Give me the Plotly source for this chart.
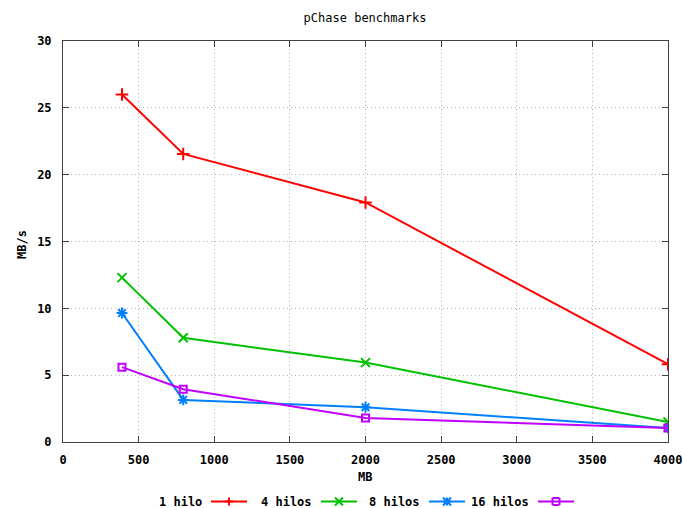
import plotly.graph_objects as go

# ---- data ----
mb = [390, 795, 2000, 4000]
hilo_1 = [26.0, 21.55, 17.92, 5.82]
hilos_4 = [12.3, 7.8, 5.94, 1.5]
hilos_8 = [9.65, 3.15, 2.6, 1.05]
hilos_16 = [5.6, 3.95, 1.8, 1.05]
series_names = ["1 hilo", "4 hilos", "8 hilos", "16 hilos"]
x_ticks = [0, 500, 1000, 1500, 2000, 2500, 3000, 3500, 4000]
y_ticks = [0, 5, 10, 15, 20, 25, 30]

colors = ["#ff0000", "#00c000", "#0080ff", "#c000ff"]
symbols = ["cross-thin-open", "x-thin-open", "asterisk-open", "square-open"]
sizes = [9, 9, 9, 7]

W, H = 683, 508
L, R, T, B = 63, 668, 41, 442
FONT = "DejaVu Sans Mono"


def px_x(p):
    return (p - L) / (R - L)


def px_y(p):
    return (B - p) / (B - T)


def seg_path(segs):
    parts = []
    for (xa, ya), (xb, yb) in segs:
        parts.append(f"M {px_x(xa):.5f} {px_y(ya):.5f} L {px_x(xb):.5f} {px_y(yb):.5f}")
    return " ".join(parts)


def glyph_segments(kind, cx, cy, r=4):
    if kind == "cross-thin-open":
        return [((cx - r, cy), (cx + r, cy)), ((cx, cy - r), (cx, cy + r))]
    if kind == "x-thin-open":
        return [((cx - r, cy - r), (cx + r, cy + r)), ((cx - r, cy + r), (cx + r, cy - r))]
    if kind == "asterisk-open":
        return [((cx - r, cy), (cx + r, cy)), ((cx, cy - r), (cx, cy + r)),
                ((cx - r, cy - r), (cx + r, cy + r)), ((cx - r, cy + r), (cx + r, cy - r))]
    r = 3.5
    return [((cx - r, cy - r), (cx + r, cy - r)), ((cx + r, cy - r), (cx + r, cy + r)),
            ((cx + r, cy + r), (cx - r, cy + r)), ((cx - r, cy + r), (cx - r, cy - r))]


fig = go.Figure()
for name, ys, c, s, sz in zip(series_names, [hilo_1, hilos_4, hilos_8, hilos_16], colors, symbols, sizes):
    fig.add_trace(go.Scatter(
        x=mb, y=ys, mode="lines+markers", name=name,
        line=dict(color=c, width=2),
        marker=dict(symbol=s, size=sz, color=c, line=dict(color=c, width=2)),
        showlegend=False,
    ))

# custom gnuplot-style legend (text left, sample right)
leg_y = 501.5
line_starts = [211, 321, 429, 538]
seg_len = 36
for name, c, s, x0 in zip(series_names, colors, symbols, line_starts):
    fig.add_shape(type="line", xref="paper", yref="paper",
                  x0=px_x(x0), x1=px_x(x0 + seg_len), y0=px_y(leg_y), y1=px_y(leg_y),
                  line=dict(color=c, width=2))
    fig.add_shape(type="path", xref="paper", yref="paper",
                  path=seg_path(glyph_segments(s, x0 + seg_len / 2, leg_y)),
                  line=dict(color=c, width=2))
    fig.add_annotation(xref="paper", yref="paper", x=px_x(x0 - 7), y=px_y(leg_y),
                       xanchor="right", yanchor="middle", showarrow=False,
                       text=name, font=dict(family=FONT, size=12, color="black", weight="bold"))

# axis titles
fig.add_annotation(xref="paper", yref="paper", x=px_x(365), y=px_y(477),
                   xanchor="center", yanchor="middle", showarrow=False, text="MB",
                   font=dict(family=FONT, size=12, color="black", weight="bold"))
fig.add_annotation(xref="paper", yref="paper", x=px_x(22), y=px_y(245),
                   xanchor="center", yanchor="middle", showarrow=False, text="MB/s",
                   textangle=-90,
                   font=dict(family=FONT, size=12, color="black", weight="bold"))

axis_common = dict(
    showline=True, linecolor="#404040", linewidth=1, mirror="allticks",
    ticks="inside", ticklen=6, tickcolor="#404040", tickwidth=1,
    showgrid=True, gridcolor="#b4b4b4", griddash="1px,3px", gridwidth=1,
    zeroline=False, automargin=False,
    tickfont=dict(family=FONT, size=12, color="black", weight="bold"),
)

fig.update_layout(
    width=W, height=H,
    margin=dict(l=L, r=W - R, t=T, b=H - B, pad=0),
    paper_bgcolor="white", plot_bgcolor="white",
    title=dict(text="pChase benchmarks", x=px_x(365), xref="paper", xanchor="center",
               y=1 - 18 / H, yref="container", yanchor="middle",
               font=dict(family=FONT, size=12, color="black")),
    xaxis=dict(range=[0, 4000], tickvals=x_ticks, ticktext=[str(v) for v in x_ticks],
               ticklabelstandoff=7, **axis_common),
    yaxis=dict(range=[0, 30], tickvals=y_ticks, ticktext=[str(v) for v in y_ticks],
               ticklabelstandoff=8, **axis_common),
    showlegend=False,
)

fig.write_html("out.html", config={"displayModeBar": False},
               post_script="document.body.style.margin='0';document.body.style.overflow='hidden';")
